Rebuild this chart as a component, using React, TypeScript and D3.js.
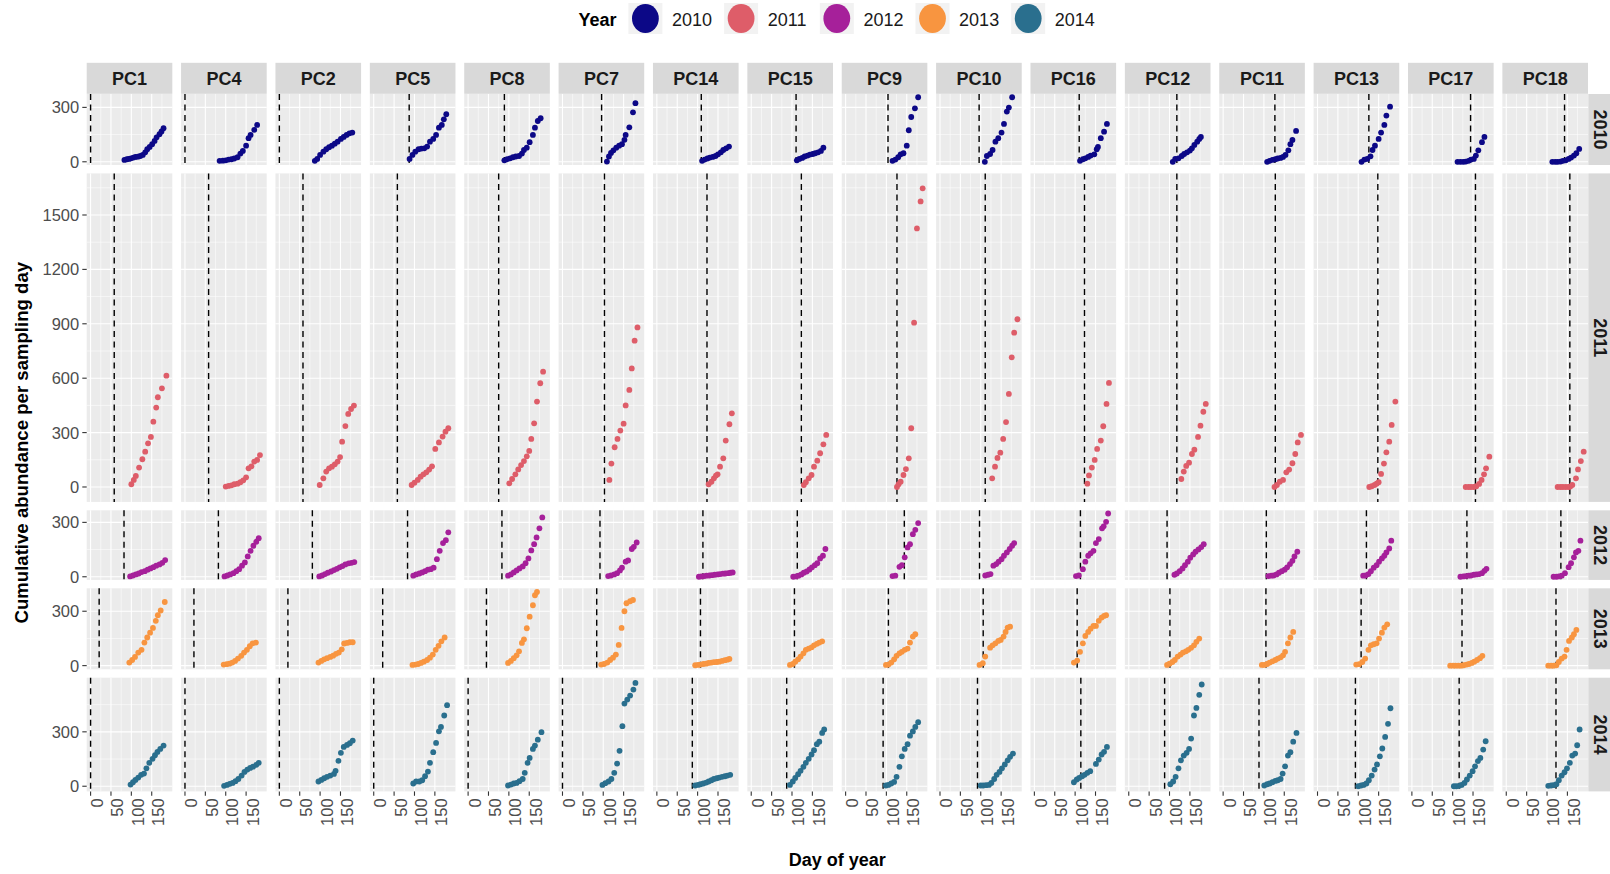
import React from "react";
import * as d3 from "d3";

type Pt = [number, number];

const sites = ["PC1", "PC4", "PC2", "PC5", "PC8", "PC7", "PC14", "PC15", "PC9", "PC10", "PC16", "PC12", "PC11", "PC13", "PC17", "PC18"];
const years = [2010, 2011, 2012, 2013, 2014];
const yearColours = ["#0C0887", "#DE5D69", "#A6209A", "#F89540", "#2A6F8E"];
const dayTicks = [0, 50, 100, 150];
const dayMinorTicks = [25, 75, 125, 175];
const abundanceStep = 300;

// Day of year of the dashed reference line, per site (same order as `sites`)
const refDay2010 = [0, 0, 0, 87, 89, 96, 109, 110, 104, 96, 110, 118, 127, 126, 144, 143];
const refDay2011 = [58, 58, 58, 58, 75, 103, 123, 123, 126, 111, 123, 118, 128, 148, 156, 156];
const refDay2012 = [82, 82, 81, 83, 83, 92, 113, 113, 144, 97, 113, 94, 106, 120, 135, 134];
const refDay2013 = [21, 22, 21, 22, 45, 84, 107, 106, 105, 106, 105, 101, 105, 107, 123, 122];
const refDay2014 = [0, 0, 0, 0, 0, 0, 87, 87, 92, 92, 114, 88, 88, 93, 116, 122];

// Cumulative abundance per sampling day: [day of year, cumulative abundance]
const cum2010: Pt[][] = [
  [[83, 10], [89, 14], [94, 16], [99, 19], [105, 23], [110, 27], [116, 28], [122, 32], [128, 38], [134, 52], [139, 69], [145, 82], [151, 97], [157, 115], [162, 135], [169, 152], [174, 167], [179, 185]],
  [[85, 5], [93, 6], [100, 8], [107, 12], [114, 14], [121, 18], [129, 25], [136, 45], [142, 60], [150, 89], [156, 130], [161, 148], [170, 176], [177, 203]],
  [[87, 5], [93, 16], [100, 38], [108, 56], [115, 69], [122, 80], [129, 89], [136, 100], [143, 111], [151, 126], [158, 137], [165, 148], [172, 157], [179, 161]],
  [[88, 16], [95, 38], [102, 56], [110, 69], [117, 73], [124, 74], [131, 84], [138, 111], [146, 126], [153, 148], [160, 188], [167, 203], [172, 234], [178, 262]],
  [[89, 8], [96, 14], [103, 19], [110, 25], [117, 29], [125, 32], [132, 45], [137, 65], [144, 78], [151, 108], [159, 148], [164, 188], [171, 225], [178, 240]],
  [[109, 1], [114, 29], [119, 49], [125, 63], [132, 78], [139, 89], [146, 97], [152, 121], [155, 148], [164, 190], [173, 273], [179, 323]],
  [[111, 5], [117, 12], [124, 18], [130, 23], [137, 27], [144, 32], [150, 41], [157, 52], [163, 65], [170, 74], [177, 84]],
  [[112, 8], [118, 16], [125, 21], [131, 29], [138, 34], [144, 40], [151, 43], [157, 47], [164, 52], [171, 60], [177, 78]],
  [[115, 5], [122, 12], [129, 25], [135, 41], [142, 47], [150, 89], [155, 174], [161, 247], [170, 295], [178, 356]],
  [[110, 0], [115, 32], [123, 43], [129, 65], [136, 111], [143, 130], [151, 161], [157, 209], [164, 277], [169, 299], [177, 356]],
  [[112, 5], [119, 14], [125, 19], [132, 27], [138, 34], [147, 41], [153, 69], [156, 82], [163, 130], [171, 166], [178, 209]],
  [[108, 0], [114, 16], [122, 19], [130, 32], [136, 43], [143, 52], [150, 62], [155, 74], [161, 93], [168, 111], [173, 126], [177, 137]],
  [[108, 0], [114, 5], [121, 10], [128, 14], [134, 18], [141, 21], [147, 27], [153, 38], [160, 63], [165, 97], [170, 120], [179, 170]],
  [[108, 0], [115, 12], [122, 16], [130, 30], [135, 65], [141, 89], [150, 126], [156, 161], [164, 203], [169, 255], [178, 304]],
  [[112, 0], [119, 0], [126, 0], [132, 1], [139, 5], [145, 12], [152, 16], [157, 34], [163, 63], [172, 108], [178, 137]],
  [[113, 0], [120, 0], [126, 0], [133, 1], [139, 5], [146, 8], [153, 16], [159, 23], [166, 34], [172, 47], [179, 71]],
];

const cum2011: Pt[][] = [
  [[100, 15], [106, 39], [111, 61], [119, 107], [127, 153], [134, 195], [141, 241], [148, 276], [154, 360], [161, 438], [165, 495], [175, 544], [186, 614]],
  [[100, 2], [107, 6], [114, 9], [121, 15], [129, 18], [136, 26], [143, 37], [150, 53], [156, 103], [163, 114], [170, 140], [177, 149], [184, 176]],
  [[99, 11], [108, 48], [115, 85], [122, 103], [129, 112], [136, 125], [143, 140], [149, 165], [154, 250], [162, 336], [169, 403], [176, 430], [183, 449]],
  [[93, 11], [100, 24], [108, 39], [115, 57], [122, 70], [129, 81], [136, 96], [143, 114], [151, 210], [160, 246], [169, 278], [176, 305], [183, 324]],
  [[101, 20], [108, 44], [116, 70], [123, 97], [130, 121], [137, 143], [144, 169], [150, 199], [155, 265], [162, 351], [169, 471], [177, 572], [184, 636]],
  [[115, 39], [120, 129], [128, 219], [135, 265], [142, 311], [150, 349], [155, 450], [164, 535], [170, 654], [177, 807], [184, 880]],
  [[127, 15], [134, 29], [140, 48], [145, 63], [149, 70], [155, 112], [163, 158], [169, 256], [178, 346], [184, 406]],
  [[129, 11], [134, 26], [141, 48], [148, 66], [154, 112], [162, 145], [169, 186], [177, 235], [184, 287]],
  [[126, 0], [130, 15], [135, 29], [142, 66], [148, 99], [155, 158], [161, 324], [168, 906], [175, 1426], [184, 1575], [189, 1647]],
  [[128, 48], [135, 112], [141, 160], [148, 189], [155, 265], [162, 358], [169, 513], [176, 715], [182, 851], [190, 925]],
  [[130, 18], [134, 64], [141, 107], [148, 149], [154, 210], [163, 256], [169, 335], [177, 458], [183, 574]],
  [[129, 44], [135, 85], [141, 116], [148, 134], [155, 182], [161, 206], [170, 276], [176, 338], [183, 415], [189, 458]],
  [[126, 0], [132, 11], [139, 29], [147, 39], [155, 81], [162, 96], [170, 131], [177, 182], [183, 246], [191, 287]],
  [[127, 0], [133, 4], [140, 11], [145, 18], [150, 26], [156, 72], [163, 129], [169, 191], [176, 250], [182, 342], [191, 471]],
  [[132, 0], [139, 0], [145, 0], [152, 0], [158, 4], [165, 17], [171, 39], [177, 70], [182, 103], [190, 167]],
  [[126, 0], [133, 0], [139, 0], [146, 0], [153, 0], [157, 2], [162, 11], [171, 48], [176, 97], [183, 143], [190, 195]],
];

const cum2012: Pt[][] = [
  [[97, 2], [104, 7], [111, 13], [118, 18], [125, 26], [133, 31], [140, 39], [147, 46], [154, 53], [161, 61], [169, 68], [176, 77], [183, 92]],
  [[97, 2], [104, 7], [111, 13], [119, 20], [126, 31], [133, 42], [140, 61], [147, 79], [154, 112], [161, 143], [168, 171], [175, 193], [181, 213]],
  [[98, 2], [105, 7], [112, 15], [119, 22], [127, 29], [134, 37], [141, 44], [148, 52], [155, 59], [162, 68], [170, 74], [177, 77], [184, 81]],
  [[97, 6], [104, 13], [112, 18], [119, 24], [126, 31], [133, 39], [140, 42], [147, 50], [155, 97], [162, 143], [170, 186], [177, 202], [183, 245]],
  [[98, 6], [105, 13], [112, 24], [119, 35], [126, 46], [134, 57], [141, 75], [148, 101], [155, 145], [162, 180], [168, 217], [175, 267], [182, 327]],
  [[112, 4], [119, 7], [127, 13], [134, 20], [141, 35], [146, 50], [155, 83], [161, 90], [170, 153], [175, 165], [182, 189]],
  [[103, 0], [109, 2], [116, 4], [122, 6], [129, 7], [135, 9], [142, 11], [149, 13], [155, 15], [162, 17], [168, 18], [175, 20], [181, 22], [186, 24]],
  [[103, 0], [110, 2], [116, 6], [123, 13], [129, 22], [136, 29], [143, 40], [149, 52], [156, 64], [162, 75], [169, 101], [176, 116], [182, 153]],
  [[115, 4], [122, 6], [132, 55], [138, 64], [145, 107], [152, 162], [158, 180], [165, 235], [171, 259], [178, 296]],
  [[111, 7], [118, 11], [124, 15], [131, 61], [138, 70], [144, 83], [151, 97], [157, 116], [164, 134], [171, 153], [177, 171], [182, 186]],
  [[102, 4], [109, 7], [119, 42], [125, 83], [132, 116], [138, 129], [145, 143], [151, 186], [158, 208], [166, 267], [170, 278], [176, 303], [181, 349]],
  [[112, 11], [118, 18], [125, 31], [132, 46], [138, 64], [145, 83], [151, 105], [158, 123], [164, 138], [171, 151], [178, 164], [184, 180]],
  [[111, 4], [118, 6], [124, 7], [131, 13], [137, 22], [144, 31], [151, 39], [157, 52], [164, 70], [170, 88], [175, 112], [182, 138]],
  [[112, 6], [118, 7], [125, 15], [131, 31], [138, 50], [145, 64], [151, 83], [158, 101], [164, 116], [169, 134], [176, 156], [181, 199]],
  [[119, 0], [126, 2], [132, 4], [139, 6], [145, 7], [152, 11], [158, 13], [165, 15], [172, 20], [178, 33], [183, 44]],
  [[116, 0], [123, 0], [129, 2], [136, 6], [144, 20], [153, 53], [159, 75], [166, 107], [171, 134], [177, 143], [182, 199]],
];

const cum2013: Pt[][] = [
  [[95, 17], [102, 31], [109, 48], [117, 72], [125, 87], [132, 127], [139, 155], [146, 182], [153, 208], [160, 247], [165, 278], [172, 304], [182, 351]],
  [[95, 6], [102, 8], [109, 11], [116, 17], [123, 26], [130, 39], [138, 54], [145, 72], [152, 87], [159, 107], [166, 123], [174, 127]],
  [[96, 17], [103, 26], [110, 35], [117, 41], [125, 48], [132, 55], [139, 65], [146, 72], [153, 90], [159, 122], [166, 125], [173, 129], [180, 129]],
  [[95, 4], [102, 6], [109, 9], [116, 15], [123, 22], [131, 31], [138, 44], [145, 61], [152, 87], [159, 109], [166, 134], [174, 155]],
  [[98, 15], [105, 26], [112, 41], [119, 57], [125, 79], [132, 125], [137, 145], [144, 206], [151, 270], [159, 333], [164, 388], [169, 406]],
  [[95, 6], [102, 9], [110, 17], [117, 31], [124, 44], [131, 61], [138, 114], [145, 208], [152, 300], [157, 344], [166, 355], [173, 362]],
  [[94, 2], [101, 4], [107, 6], [114, 9], [121, 11], [127, 15], [134, 17], [140, 19], [147, 20], [153, 22], [160, 26], [167, 30], [173, 33], [178, 37]],
  [[95, 4], [102, 9], [108, 22], [115, 35], [121, 50], [128, 68], [134, 87], [141, 94], [148, 101], [154, 112], [161, 120], [167, 127], [174, 134]],
  [[99, 4], [105, 6], [112, 17], [119, 35], [125, 54], [132, 68], [138, 76], [145, 87], [152, 94], [158, 127], [165, 160], [171, 173]],
  [[97, 4], [105, 13], [111, 50], [123, 99], [129, 112], [136, 123], [143, 136], [149, 142], [156, 160], [161, 186], [166, 210], [172, 215]],
  [[97, 17], [105, 28], [112, 76], [119, 123], [125, 164], [132, 186], [138, 204], [145, 219], [151, 219], [158, 247], [165, 265], [171, 274], [176, 278]],
  [[94, 4], [100, 11], [107, 20], [113, 31], [120, 50], [127, 61], [133, 72], [140, 79], [146, 87], [153, 98], [160, 112], [166, 131], [173, 149]],
  [[95, 4], [101, 4], [108, 9], [114, 17], [121, 24], [128, 31], [134, 39], [141, 46], [147, 57], [152, 76], [159, 123], [165, 155], [172, 186]],
  [[95, 6], [102, 8], [110, 20], [117, 39], [125, 87], [131, 112], [138, 118], [145, 123], [151, 149], [158, 182], [164, 210], [171, 228]],
  [[94, 0], [101, 0], [107, 0], [114, 0], [121, 0], [127, 2], [134, 6], [140, 9], [147, 15], [153, 22], [160, 31], [167, 41], [173, 54]],
  [[103, 0], [110, 0], [116, 0], [123, 2], [129, 20], [136, 39], [143, 50], [148, 87], [154, 136], [161, 155], [166, 173], [172, 197]],
];

const cum2014: Pt[][] = [
  [[98, 9], [104, 22], [110, 35], [117, 48], [124, 63], [131, 70], [137, 99], [144, 129], [152, 151], [158, 171], [164, 189], [171, 206], [179, 224]],
  [[96, 2], [103, 7], [110, 13], [117, 18], [124, 28], [131, 40], [139, 59], [146, 79], [153, 92], [160, 101], [167, 108], [175, 118], [181, 129]],
  [[96, 26], [103, 35], [110, 44], [117, 52], [125, 59], [134, 68], [138, 85], [145, 140], [151, 184], [158, 217], [166, 228], [173, 237], [180, 252]],
  [[97, 15], [104, 26], [112, 26], [119, 33], [126, 55], [133, 81], [138, 129], [146, 188], [153, 239], [160, 303], [165, 327], [173, 390], [180, 447]],
  [[98, 4], [105, 9], [112, 15], [119, 18], [126, 28], [134, 40], [139, 74], [146, 129], [151, 156], [159, 206], [164, 224], [171, 257], [180, 298]],
  [[98, 7], [105, 17], [113, 26], [120, 40], [127, 74], [134, 125], [140, 195], [147, 331], [152, 456], [159, 478], [166, 500], [174, 533], [179, 570]],
  [[94, 4], [101, 7], [107, 11], [114, 15], [121, 20], [127, 26], [134, 33], [140, 40], [147, 44], [153, 48], [160, 52], [167, 55], [173, 59], [180, 63]],
  [[95, 7], [102, 26], [108, 46], [115, 66], [121, 85], [128, 107], [134, 129], [141, 151], [148, 175], [154, 199], [161, 232], [167, 246], [174, 294], [179, 313]],
  [[99, 4], [105, 7], [112, 15], [119, 24], [125, 52], [132, 107], [138, 165], [145, 206], [152, 232], [158, 279], [165, 302], [171, 327], [178, 353]],
  [[100, 4], [106, 4], [113, 6], [120, 7], [126, 18], [133, 40], [139, 63], [146, 79], [152, 99], [159, 120], [166, 143], [172, 162], [179, 180]],
  [[97, 22], [104, 37], [110, 46], [117, 55], [123, 63], [130, 74], [137, 83], [151, 123], [158, 147], [165, 175], [171, 190], [178, 217]],
  [[102, 11], [109, 26], [115, 52], [122, 99], [128, 143], [135, 169], [142, 184], [148, 206], [153, 263], [160, 390], [166, 432], [173, 504], [179, 561]],
  [[101, 4], [108, 11], [114, 15], [121, 22], [128, 29], [134, 33], [141, 40], [146, 70], [152, 110], [159, 169], [165, 188], [172, 246], [180, 294]],
  [[100, 0], [107, 4], [113, 7], [120, 15], [126, 33], [133, 59], [140, 92], [146, 120], [153, 165], [159, 208], [166, 272], [173, 344], [179, 430]],
  [[103, 0], [109, 0], [116, 2], [122, 7], [129, 18], [135, 37], [142, 59], [149, 83], [155, 110], [162, 138], [168, 156], [175, 202], [181, 248]],
  [[103, 2], [110, 4], [116, 6], [123, 11], [129, 33], [136, 59], [143, 77], [149, 99], [156, 129], [162, 169], [169, 180], [174, 226], [180, 313]],
];

const refDayByYear = [refDay2010, refDay2011, refDay2012, refDay2013, refDay2014];
const cumByYear = [cum2010, cum2011, cum2012, cum2013, cum2014];

// ---- layout ----
const W = 1610;
const H = 874;
const FONT = "'Liberation Sans', Arial, Helvetica, sans-serif";
const plotL = 86.7;
const plotR = 1588.0;
const plotT = 94;
const plotB = 791.4;
const gapX = 8.75;
const gapY = 8.4;
const stripTop = 62.8;
const stripSize = 31;
const nCols = sites.length;
const panelW = (plotR - plotL - (nCols - 1) * gapX) / nCols;
const colX = (c: number) => plotL + c * (panelW + gapX);

const maxDay = d3.max(cumByYear.flat(2), (p: Pt) => p[0]) as number;
const x = d3
  .scaleLinear()
  .domain([-0.05 * maxDay, 1.05 * maxDay])
  .range([0, panelW]);

// free y scales with panel heights proportional to each year's range
const maxByYear = cumByYear.map((rows) => d3.max(rows.flat(), (p: Pt) => p[1]) as number);
const spans = maxByYear.map((m) => m * 1.1);
const pxPerUnit = (plotB - plotT - (years.length - 1) * gapY) / d3.sum(spans);
const rowLayout = (() => {
  let top = plotT;
  return maxByYear.map((m, i) => {
    const h = spans[i] * pxPerUnit;
    const y = d3.scaleLinear().domain([-0.05 * m, 1.05 * m]).range([top + h, top]);
    const major = d3.range(0, 1.05 * m, abundanceStep);
    const minor = d3.range(abundanceStep / 2, 1.05 * m, abundanceStep);
    const row = { top, h, y, major, minor };
    top += h + gapY;
    return row;
  });
})();

const legendX = 578.5;
const legendKeyX = [645.4, 741.1, 836.8, 932.5, 1028.2];

export default function App() {
  return (
    <svg
      width={W}
      height={H}
      viewBox={`0 0 ${W} ${H}`}
      style={{ position: "absolute", left: 0, top: 0, background: "#fff", fontFamily: FONT }}
    >
      <rect x={0} y={0} width={W} height={H} fill="#fff" />

      {/* legend */}
      <text x={legendX} y={20} fontSize={18} fontWeight="bold" fill="#000" dominantBaseline="central">
        Year
      </text>
      {years.map((yr, i) => (
        <g key={yr}>
          <rect x={legendKeyX[i] - 17} y={3} width={34} height={31} fill="#F2F2F2" />
          <ellipse cx={legendKeyX[i]} cy={18.5} rx={13.4} ry={14.4} fill={yearColours[i]} />
          <text x={legendKeyX[i] + 26.6} y={20} fontSize={18} fill="#1A1A1A" dominantBaseline="central">
            {yr}
          </text>
        </g>
      ))}

      {/* column strips */}
      {sites.map((s, c) => (
        <g key={s}>
          <rect x={colX(c)} y={stripTop} width={panelW} height={stripSize} fill="#D9D9D9" />
          <text
            x={colX(c) + panelW / 2}
            y={stripTop + stripSize / 2 + 1}
            fontSize={18}
            fontWeight="bold"
            fill="#1A1A1A"
            textAnchor="middle"
            dominantBaseline="central"
          >
            {s}
          </text>
        </g>
      ))}

      {/* row strips */}
      {years.map((yr, r) => {
        const row = rowLayout[r];
        const sx = plotR + 0.3;
        return (
          <g key={yr}>
            <rect x={sx} y={row.top} width={stripSize} height={row.h} fill="#D9D9D9" />
            <text
              transform={`translate(${sx + 11.2},${row.top + row.h / 2}) rotate(90)`}
              fontSize={18}
              fontWeight="bold"
              fill="#1A1A1A"
              textAnchor="middle"
              dominantBaseline="central"
            >
              {yr}
            </text>
          </g>
        );
      })}

      {/* panels */}
      {years.map((yr, r) => {
        const row = rowLayout[r];
        const y = row.y;
        const bottom = row.top + row.h;
        return (
          <g key={yr}>
            {sites.map((s, c) => {
              const px = colX(c);
              const pts = cumByYear[r][c];
              const ref = refDayByYear[r][c];
              return (
                <g key={s} transform={`translate(${px},0)`}>
                  <rect x={0} y={row.top} width={panelW} height={row.h} fill="#EBEBEB" />
                  {row.minor.map((v) => (
                    <line key={`ym${v}`} x1={0} x2={panelW} y1={y(v)} y2={y(v)} stroke="#fff" strokeWidth={0.55} />
                  ))}
                  {dayMinorTicks.map((d) => (
                    <line key={`xm${d}`} x1={x(d)} x2={x(d)} y1={row.top} y2={bottom} stroke="#fff" strokeWidth={0.55} />
                  ))}
                  {row.major.map((v) => (
                    <line key={`yM${v}`} x1={0} x2={panelW} y1={y(v)} y2={y(v)} stroke="#fff" strokeWidth={1.1} />
                  ))}
                  {dayTicks.map((d) => (
                    <line key={`xM${d}`} x1={x(d)} x2={x(d)} y1={row.top} y2={bottom} stroke="#fff" strokeWidth={1.1} />
                  ))}
                  <line
                    x1={x(ref)}
                    x2={x(ref)}
                    y1={row.top}
                    y2={bottom}
                    stroke="#000"
                    strokeWidth={1.4}
                    strokeDasharray="6,4.5"
                  />
                  {pts.map((p, i) => (
                    <circle key={i} cx={x(p[0])} cy={y(p[1])} r={2.9} fill={yearColours[r]} />
                  ))}
                </g>
              );
            })}

            {/* y axis on the first column */}
            {row.major.map((v) => (
              <g key={`yt${v}`}>
                <line x1={plotL - 4.4} x2={plotL} y1={y(v)} y2={y(v)} stroke="#333" strokeWidth={1.1} />
                <text
                  x={plotL - 7.5}
                  y={y(v)}
                  fontSize={16.5}
                  fill="#4D4D4D"
                  textAnchor="end"
                  dominantBaseline="central"
                >
                  {v}
                </text>
              </g>
            ))}
          </g>
        );
      })}

      {/* x axes under the bottom row */}
      {sites.map((s, c) => (
        <g key={`xa${s}`} transform={`translate(${colX(c)},0)`}>
          {dayTicks.map((d) => (
            <g key={d}>
              <line x1={x(d)} x2={x(d)} y1={plotB} y2={plotB + 4.4} stroke="#333" strokeWidth={1.1} />
              <text
                transform={`translate(${x(d) + 6.4},${plotB + 7}) rotate(-90)`}
                fontSize={16.5}
                fill="#4D4D4D"
                textAnchor="end"
                dominantBaseline="central"
              >
                {d}
              </text>
            </g>
          ))}
        </g>
      ))}

      {/* axis titles */}
      <text
        x={(plotL + plotR) / 2}
        y={866}
        fontSize={18}
        fontWeight="bold"
        fill="#000"
        textAnchor="middle"
      >
        Day of year
      </text>
      <text
        transform={`translate(${21.5},${(plotT + plotB) / 2}) rotate(-90)`}
        fontSize={18.6}
        fontWeight="bold"
        fill="#000"
        textAnchor="middle"
        dominantBaseline="central"
      >
        Cumulative abundance per sampling day
      </text>
    </svg>
  );
}
